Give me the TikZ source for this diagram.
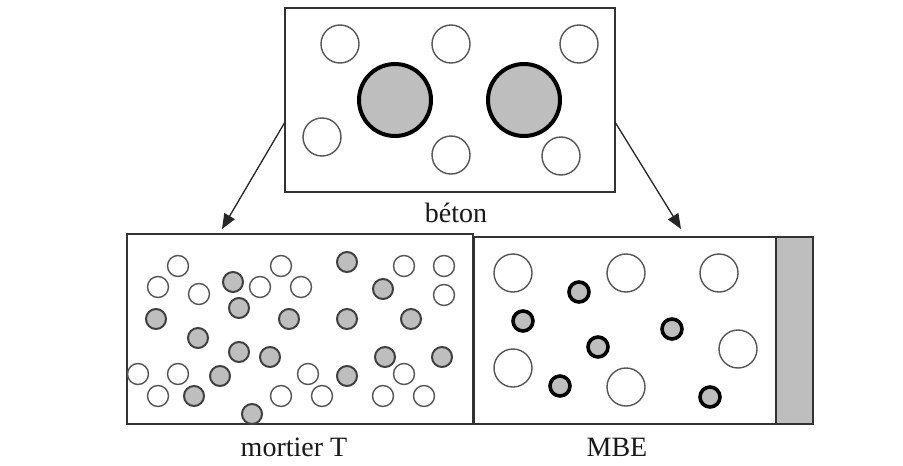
\documentclass[tikz,border=0pt]{standalone}
\usepackage{fontspec}
\setmainfont{Liberation Serif}
\usetikzlibrary{arrows.meta}
\definecolor{aggfill}{HTML}{BEBEBE}
\definecolor{ringgray}{HTML}{555555}
\tikzset{
  panel/.style={draw=black!80, line width=1.8pt, fill=white, rectangle, inner sep=0pt},
  pore/.style={circle, draw=ringgray, line width=1.4pt, fill=white, inner sep=0pt, minimum size=#1},
  bigagg/.style={circle, draw=black, line width=4pt, fill=aggfill, inner sep=0pt, minimum size=72pt},
  sand/.style={circle, draw=black!75, line width=2pt, fill=aggfill, inner sep=0pt, minimum size=20pt},
  coated/.style={circle, draw=black, line width=3.6pt, fill=aggfill, inner sep=0pt, minimum size=20pt},
  caption/.style={font=\fontsize{28}{32}\selectfont, text=black!90, inner sep=0pt},
  link/.style={draw=black!85, line width=1.3pt, -{Triangle[length=15pt,width=12pt]}}
}
\begin{document}
\begin{tikzpicture}[x=1pt, y=-1pt]
\useasboundingbox (0,0) rectangle (903,466);
\fill[white] (0,0) rectangle (903,466);

% concrete panel
\node[panel, minimum width=330pt, minimum height=184pt] (beton) at (450,100) {};
\foreach \n/\x/\y in {p1/340/44, p2/451/44, p3/579/44, p4/322/137, p5/451/155, p6/561/156}
  \node[pore=38pt] (b\n) at (\x,\y) {};
\node[bigagg] (ga1) at (395,100) {};
\node[bigagg] (ga2) at (524,100) {};
\node[caption] (lbeton) at (456,213) {béton};

% mortar panel
\node[panel, minimum width=346pt, minimum height=190pt] (mortier) at (300,329) {};
\foreach \n/\x/\y in {1/178/266, 2/158/287, 3/199/294, 4/260/287, 5/281/266, 6/301/287,
  7/404/266, 8/444/266, 9/444/295, 10/138/374, 11/178/374, 12/158/396, 13/308/374,
  14/281/396, 15/322/396, 16/404/374, 17/383/396, 18/424/396}
  \node[pore=21pt] (mp\n) at (\x,\y) {};
\foreach \n/\x/\y in {1/233/282, 2/239/308, 3/156/319, 4/198/338, 5/289/319, 6/347/262,
  7/347/319, 8/383/289, 9/411/319, 10/239/352, 11/270/357, 12/220/376, 13/194/396,
  14/347/376, 15/385/357, 16/442/357, 17/252/414}
  \node[sand] (ms\n) at (\x,\y) {};
\node[caption] (lmortier) at (294,447) {mortier T};

% MBE panel with its grey strip
\node[panel, minimum width=339pt, minimum height=187pt] (mbe) at (643.5,330.5) {};
\node[draw=black!80, line width=1.5pt, fill=aggfill, minimum width=37pt, minimum height=187pt,
  inner sep=0pt] (strip) at (794.5,330.5) {};
\foreach \n/\x/\y in {1/513/273, 2/626/273, 3/719/273, 4/513/368, 5/626/387, 6/738/349}
  \node[pore=38pt] (ep\n) at (\x,\y) {};
\foreach \n/\x/\y in {1/579/292, 2/523/321, 3/598/347, 4/672/329, 5/560/386, 6/710/397}
  \node[coated] (ec\n) at (\x,\y) {};
\node[caption] (lmbe) at (617,447) {MBE};

% arrows from the concrete panel down to the two details
\coordinate (sL) at (285,122);
\coordinate (sR) at (615,122);
\coordinate (tL) at (222,229);
\coordinate (tR) at (681,229);
\draw[link] (sL) -- (tL);
\draw[link] (sR) -- (tR);
\end{tikzpicture}
\end{document}
